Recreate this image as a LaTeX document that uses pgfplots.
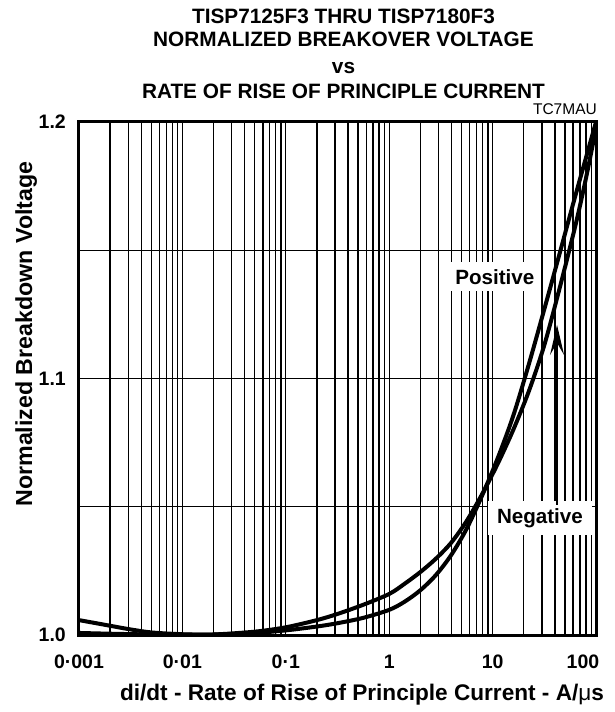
\documentclass[border=0pt]{standalone}
\usepackage{fontspec}
\setmainfont{Liberation Sans}
\usepackage{pgfplots}
\pgfplotsset{compat=1.18}
\usetikzlibrary{arrows.meta}
\newcommand\titf{\fontsize{20.8}{24}\selectfont\bfseries}
\newcommand\tickf{\fontsize{19.5}{23}\selectfont\bfseries}
\newcommand\labf{\fontsize{23.2}{27}\selectfont\bfseries}
\newcommand\xlabf{\fontsize{22.6}{27}\selectfont\bfseries}
\newcommand\insf{\fontsize{20.6}{24}\selectfont\bfseries}
\newcommand\smf{\fontsize{15.5}{18}\selectfont}
\begin{document}
\begin{tikzpicture}[x=1pt,y=1pt]
\useasboundingbox (0,0) rectangle (614,712);
\begin{axis}[
  at={(79pt,77pt)}, anchor=south west,
  scale only axis, width=517pt, height=513pt,
  xmode=log, xmin=0.001, xmax=100, ymin=1, ymax=1.2,
  xtick={0.001,0.01,0.1,1,10,100},
  xticklabels={0·001,0·01,0·1,1,10,\hspace*{-26pt}100},
  minor xtick={0.002,0.003,0.004,0.005,0.006,0.007,0.008,0.009,
               0.02,0.03,0.04,0.05,0.06,0.07,0.08,0.09,
               0.2,0.3,0.4,0.5,0.6,0.7,0.8,0.9,
               2,3,4,5,6,7,8,9,20,30,40,50,60,70,80,90},
  ytick={1,1.1,1.2}, yticklabels={1.0,1.1,1.2},
  minor ytick={1.05,1.15},
  xmajorgrids, xminorgrids, ymajorgrids, yminorgrids,
  major grid style={black, line width=1.4pt},
  minor grid style={black, line width=1.4pt},
  major tick length=0pt, minor tick length=0pt,
  axis line style={line width=3pt},
  xticklabel style={font=\tickf, anchor=base, yshift=-33pt, inner sep=0pt},
  yticklabel style={font=\tickf, anchor=east, xshift=-13pt, inner sep=0pt},
]
% Positive
\addplot[black, line width=4pt, smooth, tension=0.5] table {
x y
0.001 1.0008
0.002 1.0005
0.005012 1.0002
0.01 1.0001
0.01995 1.0002
0.0501 1.0008
0.1 1.0018
0.1995 1.0033
0.3162 1.0046
0.5623 1.0067
1 1.0098
1.4125 1.0130
1.9953 1.0174
2.8184 1.0233
3.981 1.0312
5.623 1.0415
7.943 1.0545
11.22 1.0690
15.85 1.0855
22.39 1.1055
31.62 1.1270
44.67 1.1490
63.10 1.1712
100 1.2000
};
% Negative
\addplot[black, line width=4pt, smooth, tension=0.5] table {
x y
0.001 1.0058
0.00151 1.0045
0.002 1.0036
0.00302 1.0023
0.005012 1.0010
0.01 1.0003
0.01995 1.0002
0.0501 1.0013
0.1 1.0030
0.1995 1.0058
0.3162 1.0082
0.5623 1.0118
1 1.0160
1.4125 1.0200
1.9953 1.0245
2.8184 1.0297
3.981 1.0360
5.623 1.0445
7.943 1.0550
11.22 1.0668
15.85 1.0800
22.39 1.0950
31.62 1.1130
44.67 1.1355
63.10 1.1595
79.43 1.1775
100 1.1975
};
\node[fill=white, inner xsep=7pt, inner ysep=7pt] at (axis cs:10.5,1.1396) {\insf Positive};
\node[fill=white, inner xsep=9pt, inner ysep=7pt] at (axis cs:28.7,1.0456) {\insf Negative};
\draw[line width=2.8pt, -{Stealth[length=30pt,width=14pt,inset=12pt]}] (axis cs:42,1.0507) -- (axis cs:42,1.1209);
\end{axis}
\node[anchor=base] at (343.5,688.7) {\titf TISP7125F3 THRU TISP7180F3};
\node[anchor=base] at (343.5,665.3) {\titf NORMALIZED BREAKOVER VOLTAGE};
\node[anchor=base] at (343.5,638) {\titf vs};
\node[anchor=base] at (343.5,613) {\titf RATE OF RISE OF PRINCIPLE CURRENT};
\node[anchor=base east, inner sep=0pt] at (597,597) {\smf TC7MAU};
\node[anchor=base] at (362,12) {\xlabf di/dt - Rate of Rise of Principle Current - A/{\fontseries{m}\selectfont μ}s};
\node[anchor=base, rotate=90] at (32,378) {\labf Normalized Breakdown Voltage};
\end{tikzpicture}
\end{document}
